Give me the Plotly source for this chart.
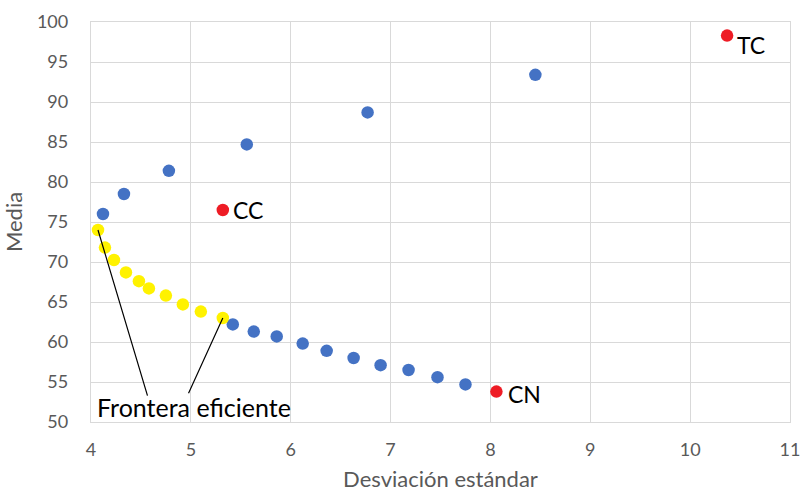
import plotly.graph_objects as go

# Portfolio points (blue)
blue_x = [4.12, 4.33, 4.78, 5.56, 6.77, 8.45, 5.42, 5.63, 5.86, 6.12, 6.36, 6.63, 6.90, 7.18, 7.47, 7.75]
blue_y = [76.0, 78.5, 81.4, 84.7, 88.7, 93.4, 62.2, 61.3, 60.7, 59.8, 58.9, 58.0, 57.1, 56.5, 55.6, 54.7]

# Efficient frontier points (yellow)
front_x = [4.07, 4.14, 4.23, 4.35, 4.48, 4.58, 4.75, 4.92, 5.10, 5.32]
front_y = [74.0, 71.8, 70.25, 68.7, 67.6, 66.7, 65.8, 64.7, 63.8, 63.0]

# Labelled assets (red)
asset_names = ["CC", "TC", "CN"]
asset_x = [5.32, 10.37, 8.06]
asset_y = [76.5, 98.3, 53.8]

# Label for the frontier
frontier_label = "Frontera eficiente"
label_x, label_y = 4.04, 51.9
connector_ends = [(4.57, 53.1), (4.97, 53.4)]

x_ticks = [4, 5, 6, 7, 8, 9, 10, 11]
y_ticks = [50, 55, 60, 65, 70, 75, 80, 85, 90, 95, 100]

FONT = "Lato"
GRAY = "#595959"
GRID = "#d9d9d9"

fig = go.Figure()
fig.add_trace(go.Scatter(x=blue_x, y=blue_y, mode="markers",
                         marker=dict(color="#4472C4", size=12.5), hoverinfo="x+y"))
fig.add_trace(go.Scatter(x=front_x, y=front_y, mode="markers",
                         marker=dict(color="#FFF200", size=12.5), hoverinfo="x+y"))
fig.add_trace(go.Scatter(x=asset_x, y=asset_y, mode="markers",
                         marker=dict(color="#EE1C25", size=12.5), hoverinfo="x+y"))

# asset labels
label_shift = {"CC": (8, 0), "TC": (8, -9), "CN": (10, -2)}
for name, ax_, ay_ in zip(asset_names, asset_x, asset_y):
    dx, dy = label_shift[name]
    fig.add_annotation(x=ax_, y=ay_, xref="x", yref="y", text=name, showarrow=False,
                       xanchor="left", yanchor="middle", xshift=dx, yshift=dy,
                       font=dict(family=FONT, size=23, color="#000000"))

# connector lines from the label to the ends of the frontier
targets = [(front_x[0], front_y[0]), (front_x[-1], front_y[-1])]
for (tx, ty), (sx, sy) in zip(targets, connector_ends):
    fig.add_annotation(x=tx, y=ty, ax=sx, ay=sy, xref="x", yref="y", axref="x", ayref="y",
                       text="", showarrow=True, arrowhead=0, arrowwidth=1.2,
                       arrowcolor="#000000", standoff=0, startstandoff=0)

fig.add_annotation(x=label_x, y=label_y, xref="x", yref="y", text=frontier_label,
                   showarrow=False, xanchor="left", yanchor="middle",
                   font=dict(family=FONT, size=25, color="#000000"))

fig.update_layout(
    width=803, height=492,
    margin=dict(l=91, r=13, t=22, b=70, autoexpand=False),
    paper_bgcolor="white", plot_bgcolor="white",
    showlegend=False,
    font=dict(family=FONT, color=GRAY),
)
fig.update_xaxes(range=[4, 11], tickvals=x_ticks, showgrid=True, gridcolor=GRID, gridwidth=1.3,
                 showline=True, linecolor=GRID, linewidth=1.3, mirror=True, zeroline=False,
                 automargin=False,
                 tickfont=dict(family=FONT, size=18, color=GRAY), ticklabelstandoff=11,
                 title=dict(text="Desviación estándar", font=dict(family=FONT, size=22, color=GRAY),
                            standoff=26))
fig.update_yaxes(range=[50, 100], tickvals=y_ticks, showgrid=True, gridcolor=GRID, gridwidth=1.3,
                 showline=True, linecolor=GRID, linewidth=1.3, mirror=True, zeroline=False,
                 automargin=False,
                 tickfont=dict(family=FONT, size=18, color=GRAY), ticklabelstandoff=18,
                 title=dict(text="Media", font=dict(family=FONT, size=22, color=GRAY), standoff=11))

fig.write_html("out.html", config={"displayModeBar": False},
               post_script="document.body.style.margin='0';document.body.style.overflow='hidden';")
